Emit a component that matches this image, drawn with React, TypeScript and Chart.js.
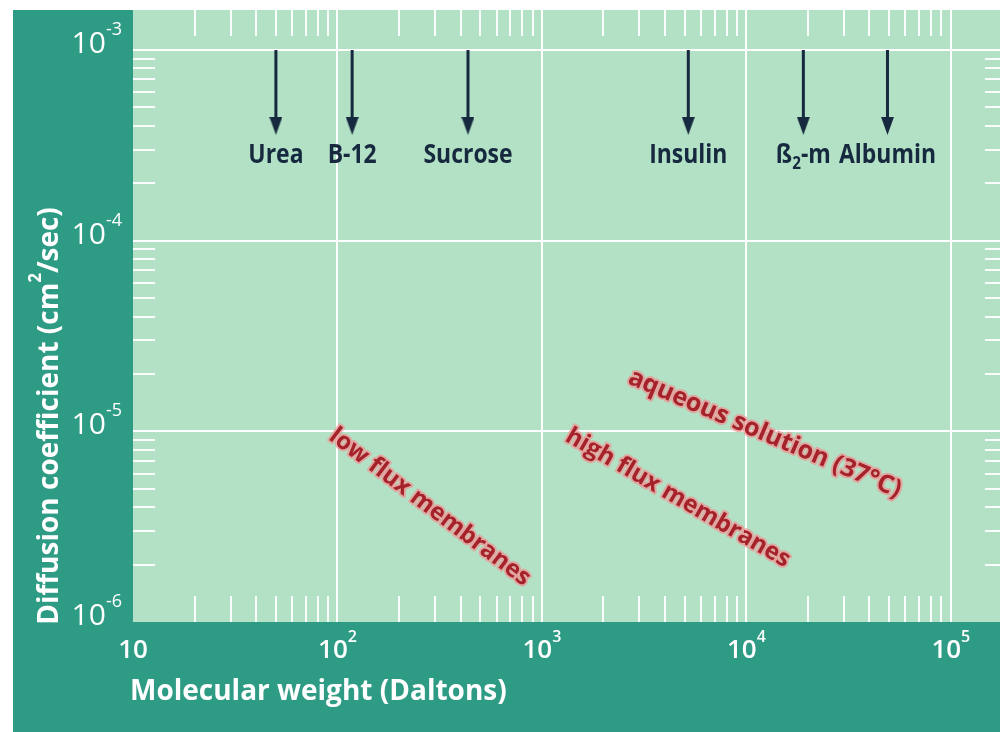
import React, { useEffect, useRef } from "react";
import { Chart, registerables } from "chart.js";

Chart.register(...registerables);

// ---------------- data ----------------
const xMin = 10;
const xMax = 1.74e5;
const yMin = 1e-6;
const yMax = 1.62e-3;

const xTickValues = [10, 100, 1000, 10000, 100000];
const xTickLabels = ["10", "10^{2}", "10^{3}", "10^{4}", "10^{5}"];
const yTickValues = [1e-3, 1e-4, 1e-5, 1e-6];
const yTickLabels = ["10^{-3}", "10^{-4}", "10^{-5}", "10^{-6}"];

const minorMultipliers = [2, 3, 4, 5, 6, 7, 8, 9];
const xDecades = [1, 2, 3, 4, 5];
const yDecades = [-6, -5, -4, -3];

const moleculeNames = ["Urea", "B-12", "Sucrose", "Insulin", "ß_{2}-m", "Albumin"];
const moleculeWeights = [50, 118, 435, 5200, 19000, 49000];
const arrowStart = 1e-3;
const arrowEnd = 4.0e-4;
const moleculeLabelY = 2.85e-4;

const regionLabels = ["low flux membranes", "high flux membranes", "aqueous solution (37°C)"];
const regionLabelX = [283, 4620, 12300];
const regionLabelY = [4.0e-6, 4.47e-6, 9.7e-6];
const regionLabelAngle = [37, 30, 23];

const xTitle = "Molecular weight (Daltons)";
const yTitle = "Diffusion coefficient (cm^{2}/sec)";

// ---------------- style ----------------
const FONT = '"Open Sans", "Noto Sans", "DejaVu Sans", sans-serif';
const TEAL = "#2e9c85";
const PLOT_BG = "#b3e1c5";
const NAVY = "#16293f";
const RED = "#a5222a";
const HALO = "rgba(238,150,150,0.75)";
const REGION_FONT_SIZES = [24, 24, 25];

type Part = { t: string; k: number };

function parseRich(s: string): Part[] {
  const out: Part[] = [];
  const re = /(\^\{[^}]*\}|_\{[^}]*\})/g;
  let last = 0;
  let m: RegExpExecArray | null;
  while ((m = re.exec(s))) {
    if (m.index > last) out.push({ t: s.slice(last, m.index), k: 0 });
    out.push({ t: m[0].slice(2, -1), k: m[0][0] === "^" ? 1 : -1 });
    last = m.index + m[0].length;
  }
  if (last < s.length) out.push({ t: s.slice(last), k: 0 });
  return out;
}

function drawRich(
  ctx: CanvasRenderingContext2D,
  s: string,
  x: number,
  y: number,
  size: number,
  weight: string,
  align: "left" | "center" | "right",
  scaleX = 1,
  supRatio = 0.62
) {
  const parts = parseRich(s);
  const small = Math.round(size * supRatio);
  const fontFor = (k: number) => `${weight} ${k === 0 ? size : small}px ${FONT}`;
  let total = 0;
  const widths = parts.map((p) => {
    ctx.font = fontFor(p.k);
    const w = ctx.measureText(p.t).width;
    total += w;
    return w;
  });
  ctx.save();
  ctx.translate(x, y);
  ctx.scale(scaleX, 1);
  let cx = align === "center" ? -total / 2 : align === "right" ? -total : 0;
  ctx.textAlign = "left";
  ctx.textBaseline = "alphabetic";
  parts.forEach((p, i) => {
    ctx.font = fontFor(p.k);
    const dy = p.k === 1 ? -size * 0.6 : p.k === -1 ? size * 0.24 : 0;
    ctx.fillText(p.t, cx, dy);
    cx += widths[i];
  });
  ctx.restore();
}

const isDecade = (v: number) => {
  const l = Math.log10(v);
  return Math.abs(l - Math.round(l)) < 1e-6;
};

function makeArrowHead(): HTMLCanvasElement {
  const c = document.createElement("canvas");
  c.width = 13;
  c.height = 18;
  const g = c.getContext("2d")!;
  g.fillStyle = NAVY;
  g.beginPath();
  g.moveTo(0, 0);
  g.lineTo(13, 0);
  g.lineTo(6.5, 18);
  g.closePath();
  g.fill();
  return c;
}

const backgroundPlugin = {
  id: "bgPlugin",
  beforeDraw(chart: any) {
    const { ctx, chartArea: a, width, height } = chart;
    ctx.save();
    ctx.fillStyle = TEAL;
    ctx.fillRect(0, 0, width, height);
    ctx.fillStyle = PLOT_BG;
    ctx.fillRect(a.left, a.top, a.right - a.left, a.bottom - a.top);
    ctx.restore();
  },
};

const decorPlugin = {
  id: "decorPlugin",
  afterDatasetsDraw(chart: any) {
    const { ctx, chartArea: a } = chart;
    const xs = chart.scales.x;
    const ys = chart.scales.y;
    ctx.save();
    // minor ticks
    ctx.strokeStyle = "rgba(255,255,255,0.9)";
    ctx.lineWidth = 2;
    const seg = (x1: number, y1: number, x2: number, y2: number) => {
      ctx.beginPath();
      ctx.moveTo(x1, y1);
      ctx.lineTo(x2, y2);
      ctx.stroke();
    };
    xDecades.forEach((e) => {
      minorMultipliers.forEach((m) => {
        const v = m * Math.pow(10, e - 1);
        if (v <= xMin || v >= xMax) return;
        const px = Math.round(xs.getPixelForValue(v));
        seg(px, a.top, px, a.top + 26);
        seg(px, a.bottom - 26, px, a.bottom);
      });
    });
    yDecades.forEach((e) => {
      minorMultipliers.forEach((m) => {
        const v = m * Math.pow(10, e);
        if (v <= yMin || v >= yMax) return;
        const py = Math.round(ys.getPixelForValue(v));
        seg(a.left, py, a.left + 22, py);
        seg(a.right - 15, py, a.right, py);
      });
    });

    // molecule labels
    ctx.fillStyle = NAVY;
    moleculeNames.forEach((n, i) => {
      const px = xs.getPixelForValue(moleculeWeights[i]);
      const py = ys.getPixelForValue(moleculeLabelY);
      drawRich(ctx, n, px, py + 9, 27, "bold", "center", 0.85, 0.66);
    });

    // region labels
    regionLabels.forEach((t, i) => {
      const px = xs.getPixelForValue(regionLabelX[i]);
      const py = ys.getPixelForValue(regionLabelY[i]);
      ctx.save();
      ctx.translate(px, py);
      ctx.rotate((regionLabelAngle[i] * Math.PI) / 180);
      ctx.font = `bold ${REGION_FONT_SIZES[i]}px ${FONT}`;
      ctx.textAlign = "center";
      ctx.textBaseline = "middle";
      ctx.lineJoin = "round";
      ctx.strokeStyle = HALO;
      ctx.lineWidth = 4;
      ctx.strokeText(t, 0, 0);
      ctx.fillStyle = RED;
      ctx.fillText(t, 0, 0);
      ctx.restore();
    });

    // tick labels
    ctx.fillStyle = "#ffffff";
    xTickValues.forEach((v, i) => {
      const px = xs.getPixelForValue(v);
      drawRich(ctx, xTickLabels[i], px, a.bottom + 36, 26, "600", "center", 1, 0.62);
    });
    yTickValues.forEach((v, i) => {
      const py = ys.getPixelForValue(v);
      drawRich(ctx, yTickLabels[i], a.left - 11, py + 3, 30, "normal", "right", 1, 0.6);
    });

    // axis titles
    drawRich(ctx, xTitle, a.left - 3, a.bottom + 78, 28, "bold", "left");
    ctx.save();
    ctx.translate(45, 406);
    ctx.rotate(-Math.PI / 2);
    drawRich(ctx, yTitle, 0, 0, 28, "bold", "center");
    ctx.restore();

    ctx.restore();
  },
};

export default function App() {
  const ref = useRef<HTMLCanvasElement | null>(null);

  useEffect(() => {
    if (!ref.current) return;
    document.body.style.overflow = "hidden";
    const head = makeArrowHead();
    const chart = new Chart(ref.current, {
      type: "scatter",
      data: {
        datasets: moleculeWeights.map((w, i) => ({
          label: moleculeNames[i],
          data: [
            { x: w, y: arrowStart },
            { x: w, y: arrowEnd },
          ],
          showLine: true,
          borderColor: NAVY,
          backgroundColor: NAVY,
          borderWidth: 3,
          pointRadius: [0, 6],
          pointHoverRadius: 0,
          pointStyle: head as any,
        })),
      },
      options: {
        responsive: false,
        animation: false,
        events: [],
        layout: { padding: 0, autoPadding: false },
        plugins: {
          legend: { display: false },
          tooltip: { enabled: false },
        },
        scales: {
          x: {
            type: "logarithmic",
            min: xMin,
            max: xMax,
            ticks: { display: false },
            border: { display: false },
            grid: {
              drawTicks: false,
              lineWidth: 2,
              color: (c: any) =>
                c.tick && isDecade(c.tick.value) && c.tick.value > xMin * 1.001
                  ? "#ffffff"
                  : "rgba(0,0,0,0)",
            },
            afterFit: (s: any) => {
              s.height = 110;
              s.paddingLeft = 0;
              s.paddingRight = 0;
            },
          },
          y: {
            type: "logarithmic",
            min: yMin,
            max: yMax,
            ticks: { display: false },
            border: { display: false },
            grid: {
              drawTicks: false,
              lineWidth: 2,
              color: (c: any) =>
                c.tick && isDecade(c.tick.value) && c.tick.value > yMin * 1.001
                  ? "#ffffff"
                  : "rgba(0,0,0,0)",
            },
            afterFit: (s: any) => {
              s.width = 120;
              s.paddingTop = 0;
              s.paddingBottom = 0;
            },
          },
        },
      },
      plugins: [backgroundPlugin, decorPlugin],
    });
    return () => chart.destroy();
  }, []);

  return (
    <div style={{ position: "absolute", left: 13, top: 10, width: 987, height: 722 }}>
      <canvas ref={ref} width={987} height={722} style={{ display: "block", width: 987, height: 722 }} />
    </div>
  );
}
